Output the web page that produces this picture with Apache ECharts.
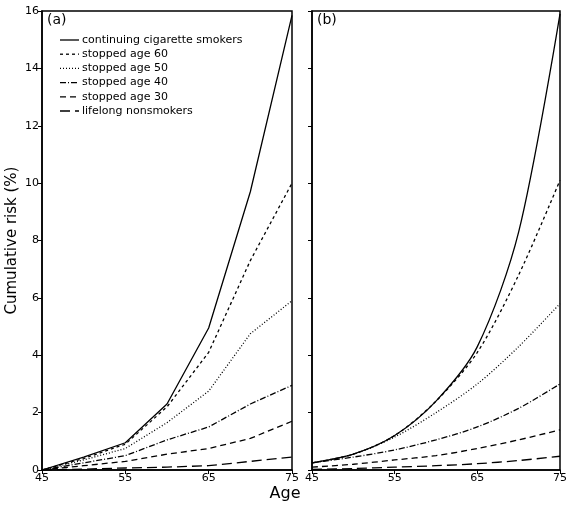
<!DOCTYPE html><html><head><meta charset="utf-8"><script src="https://cdn.jsdelivr.net/npm/echarts@6/dist/echarts.min.js"></script></head><body style="margin:0"><div id="c" style="width:570px;height:510px"></div><script>
const ages=[45,50,55,60,65,70,75];
const names=['continuing cigarette smokers','stopped age 60','stopped age 50','stopped age 40','stopped age 30','lifelong nonsmokers'];
const leftCont=[0,0.45,0.95,2.3,4.95,9.7,15.85];
const left60=[0,0.4,0.9,2.2,4.1,7.3,10.0];
const left50=[0,0.35,0.75,1.65,2.75,4.75,5.9];
const left40=[0,0.25,0.5,1.05,1.5,2.3,2.95];
const left30=[0,0.15,0.3,0.55,0.75,1.1,1.7];
const leftNon=[0,0.03,0.07,0.1,0.15,0.3,0.45];
const rightCont=[0.25,0.55,1.2,2.4,4.3,8.3,15.9];
const right60=[0.25,0.55,1.2,2.4,4.1,6.8,10.1];
const right50=[0.25,0.55,1.15,2.0,3.0,4.3,5.8];
const right40=[0.25,0.45,0.7,1.05,1.5,2.15,3.0];
const right30=[0.1,0.2,0.35,0.5,0.75,1.05,1.4];
const rightNon=[0.02,0.05,0.1,0.15,0.22,0.33,0.48];
const types=['solid',[3,3],[1,2],[6,2,1,2],[6,4],[10,5]];
const F='DejaVu Sans';
const L=[leftCont,left60,left50,left40,left30,leftNon], R=[rightCont,right60,right50,right40,right30,rightNon];
function ax(i,showLabels){return {x:{type:'value',gridIndex:i,min:45,max:75,interval:10,axisLine:{lineStyle:{color:'#000',width:1.5}},axisTick:{length:4,lineStyle:{color:'#000'}},axisLabel:{color:'#000',fontFamily:F,fontSize:11,margin:3},splitLine:{show:false}},
y:{type:'value',gridIndex:i,min:0,max:16,interval:2,axisLine:{lineStyle:{color:'#000',width:1.5}},axisTick:{length:4,lineStyle:{color:'#000'}},axisLabel:{show:showLabels,color:'#000',fontFamily:F,fontSize:11,margin:3},splitLine:{show:false}}};}
const a0=ax(0,true),a1=ax(1,false);
const series=[];
[L,R].forEach((set,g)=>set.forEach((d,k)=>series.push({name:names[k],type:'line',xAxisIndex:g,yAxisIndex:g,smooth:g===1?0.3:false,symbol:'none',data:ages.map((a,j)=>[a,d[j]]),lineStyle:{color:'#000',width:1.3,type:types[k]}})));
const graphic=[{type:'text',left:47,top:13,style:{text:'(a)',font:'14px '+F,fill:'#000'}},{type:'text',left:317,top:13,style:{text:'(b)',font:'14px '+F,fill:'#000'}},{type:'text',left:'center',top:486,style:{text:'Age',font:'16px '+F,fill:'#000'}}];
names.forEach((n,k)=>{const y=40+k*14.2;const t=types[k];
graphic.push({type:'line',shape:{x1:60,y1:y,x2:79,y2:y},style:{stroke:'#000',lineWidth:1.3,lineDash:t==='solid'?null:t}});
graphic.push({type:'text',x:82,y:y,style:{text:n,font:'11px '+F,fill:'#000',verticalAlign:'middle'}});});
const c=echarts.init(document.getElementById('c'));
c.setOption({animation:false,backgroundColor:'#fff',
grid:[{left:42,top:11,width:250,height:459,show:true,borderColor:'#000',borderWidth:1.5},{left:312,top:11,width:248,height:459,show:true,borderColor:'#000',borderWidth:1.5}],
xAxis:[a0.x,a1.x],yAxis:[Object.assign(a0.y,{name:'Cumulative risk (%)',nameLocation:'middle',nameGap:22,nameTextStyle:{fontFamily:F,fontSize:15,color:'#000'}}),a1.y],
graphic,series});
</script></body></html>
